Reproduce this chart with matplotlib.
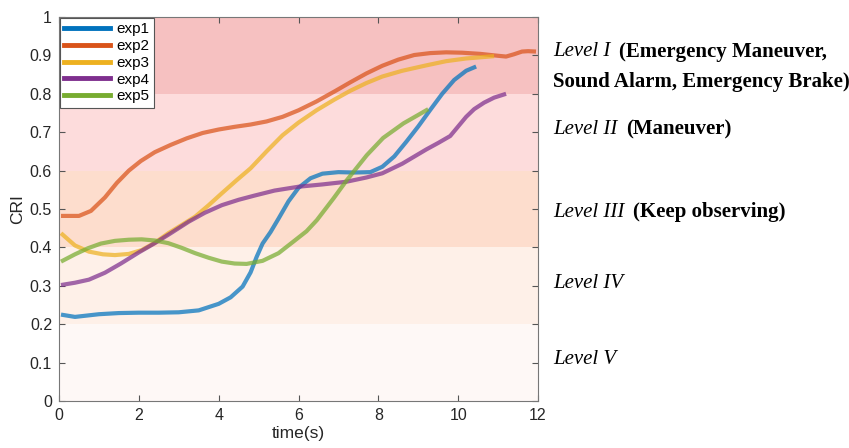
import matplotlib
matplotlib.use("Agg")
import matplotlib.pyplot as plt
import matplotlib.transforms as mtransforms

# ---------------- data ----------------
exp1_x = [0.05, 0.4, 1, 1.5, 2, 2.5, 3, 3.5, 4, 4.3, 4.6, 4.8, 4.95, 5.1, 5.3, 5.5, 5.75, 6, 6.3, 6.6, 7,
          7.4, 7.8, 8.1, 8.4, 8.7, 9, 9.3, 9.6, 9.9, 10.2, 10.45]
exp1_y = [0.225, 0.219, 0.226, 0.229, 0.230, 0.230, 0.231, 0.236, 0.253, 0.270, 0.298, 0.335, 0.375, 0.410,
          0.440, 0.475, 0.520, 0.555, 0.580, 0.592, 0.596, 0.595, 0.596, 0.610, 0.637, 0.675, 0.715, 0.758,
          0.800, 0.836, 0.860, 0.871]

exp2_x = [0.05, 0.5, 0.8, 1.15, 1.45, 1.75, 2.05, 2.4, 2.8, 3.2, 3.6, 4, 4.4, 4.8, 5.2, 5.6, 6.0, 6.45, 6.9,
          7.3, 7.7, 8.1, 8.5, 8.9, 9.3, 9.7, 10.1, 10.55, 11.0, 11.2, 11.4, 11.6, 11.75, 11.95]
exp2_y = [0.482, 0.482, 0.495, 0.530, 0.568, 0.600, 0.625, 0.648, 0.667, 0.684, 0.698, 0.707, 0.714, 0.720,
          0.728, 0.740, 0.757, 0.780, 0.806, 0.830, 0.853, 0.873, 0.889, 0.901, 0.906, 0.908, 0.907, 0.904,
          0.899, 0.897, 0.903, 0.910, 0.911, 0.910]

exp3_x = [0.05, 0.4, 0.75, 1.1, 1.4, 1.75, 2.07, 2.4, 2.74, 3.07, 3.41, 3.75, 4.08, 4.45, 4.8, 5.2, 5.6, 6.0,
          6.45, 6.9, 7.3, 7.7, 8.1, 8.6, 9.2, 9.7, 10.2, 10.9]
exp3_y = [0.437, 0.405, 0.389, 0.382, 0.380, 0.383, 0.393, 0.412, 0.437, 0.458, 0.480, 0.510, 0.541, 0.575,
          0.606, 0.650, 0.692, 0.725, 0.757, 0.785, 0.808, 0.828, 0.845, 0.860, 0.874, 0.885, 0.892, 0.898]

exp4_x = [0.05, 0.4, 0.75, 1.15, 1.55, 2.0, 2.4, 2.8, 3.25, 3.65, 4.08, 4.5, 4.9, 5.4, 6.0, 6.6, 7.2, 7.7,
          8.1, 8.6, 9.2, 9.5, 9.8, 10.0, 10.2, 10.4, 10.65, 10.9, 11.2]
exp4_y = [0.302, 0.308, 0.316, 0.334, 0.358, 0.387, 0.411, 0.437, 0.467, 0.490, 0.510, 0.524, 0.535, 0.548,
          0.558, 0.564, 0.571, 0.582, 0.593, 0.618, 0.655, 0.672, 0.690, 0.715, 0.740, 0.760, 0.777, 0.790,
          0.800]

exp5_x = [0.05, 0.4, 0.73, 1.05, 1.4, 1.75, 2.07, 2.4, 2.74, 3.07, 3.41, 3.75, 4.08, 4.4, 4.7, 5.1, 5.5,
          5.87, 6.2, 6.46, 6.88, 7.21, 7.71, 8.12, 8.63, 9.0, 9.25]
exp5_y = [0.363, 0.382, 0.398, 0.410, 0.417, 0.420, 0.421, 0.418, 0.411, 0.399, 0.385, 0.373, 0.363, 0.358,
          0.357, 0.365, 0.385, 0.415, 0.442, 0.471, 0.528, 0.575, 0.640, 0.685, 0.723, 0.745, 0.760]

series_names = ["exp1", "exp2", "exp3", "exp4", "exp5"]
series_colors = ["#0072BD", "#D95319", "#EDB120", "#7E2F8E", "#77AC30"]

band_edges = [0.0, 0.2, 0.4, 0.6, 0.8, 1.0]
band_colors = ["#fef8f6", "#fef0e8", "#fdddcd", "#fddcdc", "#f6c1c1"]

level_numerals = ["I", "II", "III", "IV", "V"]
level_notes = ["(Emergency Maneuver,", "(Maneuver)", "(Keep observing)", "", ""]
level_y = [0.909, 0.706, 0.492, 0.305, 0.107]
level1_second_line = "Sound Alarm, Emergency Brake)"
level1_second_y = 0.831

x_ticks = [0, 2, 4, 6, 8, 10, 12]
y_ticks = [0, 0.1, 0.2, 0.3, 0.4, 0.5, 0.6, 0.7, 0.8, 0.9, 1]

# ---------------- figure ----------------
plt.rcParams["font.family"] = ["Liberation Sans", "DejaVu Sans"]
fig = plt.figure(figsize=(8.49, 4.48), dpi=100)
ax = fig.add_axes([59 / 849, 47 / 448, 479 / 849, 384 / 448])

for lo, hi, c in zip(band_edges[:-1], band_edges[1:], band_colors):
    ax.axhspan(lo, hi, color=c, lw=0, zorder=0)

xs = [exp1_x, exp2_x, exp3_x, exp4_x, exp5_x]
ys = [exp1_y, exp2_y, exp3_y, exp4_y, exp5_y]
handles = []
for x, y, c, n in zip(xs, ys, series_colors, series_names):
    ax.plot(x, y, color=c, lw=3, alpha=0.72, solid_capstyle="butt", solid_joinstyle="round", zorder=2)
    h, = ax.plot([], [], color=c, lw=3.5, label=n)
    handles.append(h)

ax.set_xlim(0, 12)
ax.set_ylim(0, 1)
ax.set_xticks(x_ticks)
ax.set_xticklabels([str(t) for t in x_ticks])
ax.set_yticks(y_ticks)
ax.set_yticklabels(["0", "0.1", "0.2", "0.3", "0.4", "0.5", "0.6", "0.7", "0.8", "0.9", "1"])
ax.tick_params(direction="in", top=True, right=True, labelsize=11.5, labelcolor="#262626",
               color="#555555", length=4, pad=5)
for s in ax.spines.values():
    s.set_color("#777777")
    s.set_linewidth(0.8)
ax.set_xlabel("time(s)", fontsize=12.5, labelpad=2, color="#262626")
ax.set_ylabel("CRI", fontsize=12.5, labelpad=3, color="#262626")

leg = ax.legend(handles=handles, loc="upper left", fontsize=11, handlelength=3.0,
                borderaxespad=0.05, frameon=True, fancybox=False, borderpad=0.3,
                labelspacing=0.18, handletextpad=0.4)
leg.get_frame().set_edgecolor("#555555")
leg.get_frame().set_linewidth(0.8)
leg.get_frame().set_facecolor("white")
leg.get_frame().set_alpha(1)

trans = mtransforms.blended_transform_factory(ax.transAxes, ax.transData)
serif = ["Liberation Serif", "DejaVu Serif"]
fs = 15
x_txt = (553 - 59) / 479
for num, note, yv in zip(level_numerals, level_notes, level_y):
    t = ax.text(x_txt, yv, "Level " + num, transform=trans, fontsize=fs, family=serif,
                style="italic", va="center", ha="left", clip_on=False)
    if note:
        ax.annotate(note, xy=(1, 0.5), xycoords=t, xytext=(6, 0), textcoords="offset points",
                    fontsize=fs, family=serif, fontweight="bold", va="center", ha="left",
                    annotation_clip=False)
ax.text(x_txt, level1_second_y, level1_second_line, transform=trans, fontsize=fs, family=serif,
        fontweight="bold", va="center", ha="left", clip_on=False)

fig.savefig("out.png", dpi=100)
